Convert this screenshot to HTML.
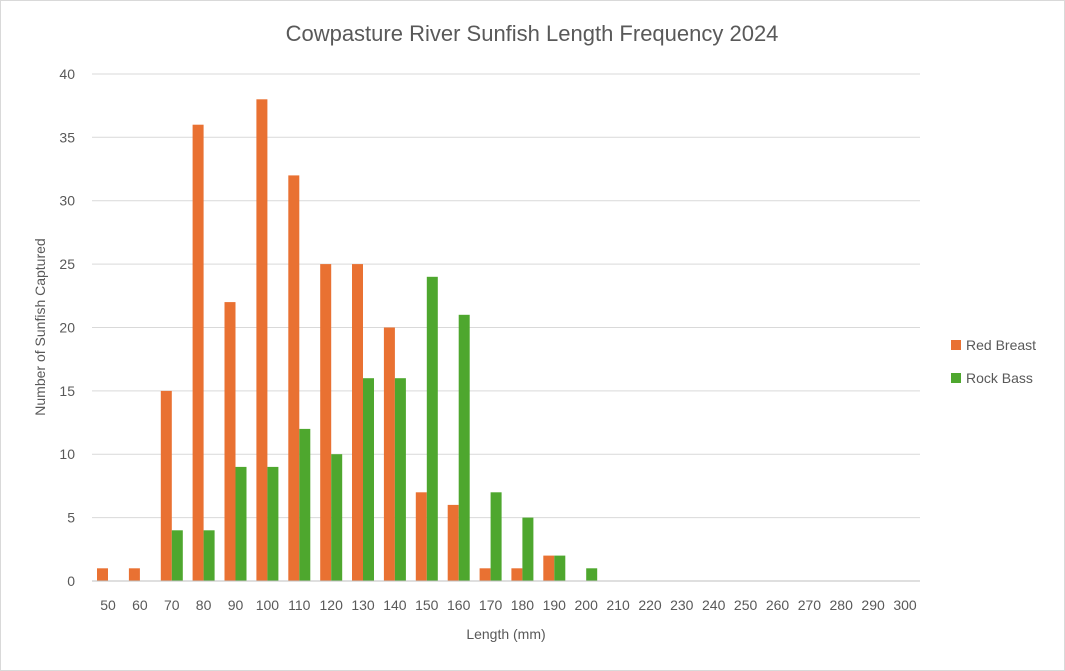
<!DOCTYPE html>
<html><head><meta charset="utf-8"><style>
html,body{margin:0;padding:0;background:#fff;}
svg{display:block;font-family:"Liberation Sans",sans-serif;}
.t{font-size:14px;fill:#595959;}
</style></head><body>
<svg width="1065" height="671" viewBox="0 0 1065 671">
<rect x="0.5" y="0.5" width="1064" height="670" fill="#fff" stroke="#d9d9d9"/>
<text x="532" y="41" text-anchor="middle" style="font-size:22px;fill:#595959">Cowpasture River Sunfish Length Frequency 2024</text>
<g stroke="#d9d9d9" stroke-width="1">
<line x1="92" x2="920" y1="517.6" y2="517.6"/><line x1="92" x2="920" y1="454.2" y2="454.2"/>
<line x1="92" x2="920" y1="390.9" y2="390.9"/><line x1="92" x2="920" y1="327.5" y2="327.5"/>
<line x1="92" x2="920" y1="264.1" y2="264.1"/><line x1="92" x2="920" y1="200.7" y2="200.7"/>
<line x1="92" x2="920" y1="137.3" y2="137.3"/><line x1="92" x2="920" y1="74" y2="74"/>
</g>
<g class="t" text-anchor="end">
<text x="75" y="586">0</text><text x="75" y="522.6">5</text><text x="75" y="459.2">10</text>
<text x="75" y="395.9">15</text><text x="75" y="332.5">20</text><text x="75" y="269.1">25</text>
<text x="75" y="205.7">30</text><text x="75" y="142.3">35</text><text x="75" y="79">40</text>
</g>
<text transform="translate(45,327) rotate(-90)" text-anchor="middle" class="t">Number of Sunfish Captured</text>
<g fill="#E97132">
<rect x="97" y="568.3" width="11" height="12.7"/><rect x="128.9" y="568.3" width="11" height="12.7"/>
<rect x="160.8" y="390.9" width="11" height="190.1"/><rect x="192.6" y="124.7" width="11" height="456.3"/>
<rect x="224.5" y="302.1" width="11" height="278.9"/><rect x="256.4" y="99.3" width="11" height="481.7"/>
<rect x="288.3" y="175.4" width="11" height="405.6"/><rect x="320.2" y="264.1" width="11" height="316.9"/>
<rect x="352" y="264.1" width="11" height="316.9"/><rect x="383.9" y="327.5" width="11" height="253.5"/>
<rect x="415.8" y="492.3" width="11" height="88.7"/><rect x="447.7" y="504.9" width="11" height="76.1"/>
<rect x="479.6" y="568.3" width="11" height="12.7"/><rect x="511.4" y="568.3" width="11" height="12.7"/>
<rect x="543.3" y="555.6" width="11" height="25.4"/>
</g>
<g fill="#4EA72E">
<rect x="171.8" y="530.3" width="11" height="50.7"/><rect x="203.6" y="530.3" width="11" height="50.7"/>
<rect x="235.5" y="466.9" width="11" height="114.1"/><rect x="267.4" y="466.9" width="11" height="114.1"/>
<rect x="299.3" y="428.9" width="11" height="152.1"/><rect x="331.2" y="454.2" width="11" height="126.8"/>
<rect x="363" y="378.2" width="11" height="202.8"/><rect x="394.9" y="378.2" width="11" height="202.8"/>
<rect x="426.8" y="276.8" width="11" height="304.2"/><rect x="458.7" y="314.8" width="11" height="266.2"/>
<rect x="490.6" y="492.3" width="11" height="88.7"/><rect x="522.4" y="517.6" width="11" height="63.4"/>
<rect x="554.3" y="555.6" width="11" height="25.4"/><rect x="586.2" y="568.3" width="11" height="12.7"/>
</g>
<line x1="92" x2="920" y1="581" y2="581" stroke="#bfbfbf"/>
<g class="t" text-anchor="middle">
<text x="108" y="610">50</text><text x="139.9" y="610">60</text><text x="171.8" y="610">70</text>
<text x="203.6" y="610">80</text><text x="235.5" y="610">90</text><text x="267.4" y="610">100</text>
<text x="299.3" y="610">110</text><text x="331.2" y="610">120</text><text x="363" y="610">130</text>
<text x="394.9" y="610">140</text><text x="426.8" y="610">150</text><text x="458.7" y="610">160</text>
<text x="490.6" y="610">170</text><text x="522.4" y="610">180</text><text x="554.3" y="610">190</text>
<text x="586.2" y="610">200</text><text x="618.1" y="610">210</text><text x="650" y="610">220</text>
<text x="681.8" y="610">230</text><text x="713.7" y="610">240</text><text x="745.6" y="610">250</text>
<text x="777.5" y="610">260</text><text x="809.4" y="610">270</text><text x="841.2" y="610">280</text>
<text x="873.1" y="610">290</text><text x="905" y="610">300</text>
</g>
<text x="506" y="639" text-anchor="middle" class="t">Length (mm)</text>
<rect x="951" y="340" width="10" height="10" fill="#E97132"/>
<text x="966" y="350" class="t">Red Breast</text>
<rect x="951" y="373" width="10" height="10" fill="#4EA72E"/>
<text x="966" y="383" class="t">Rock Bass</text>
</svg>
</body></html>
